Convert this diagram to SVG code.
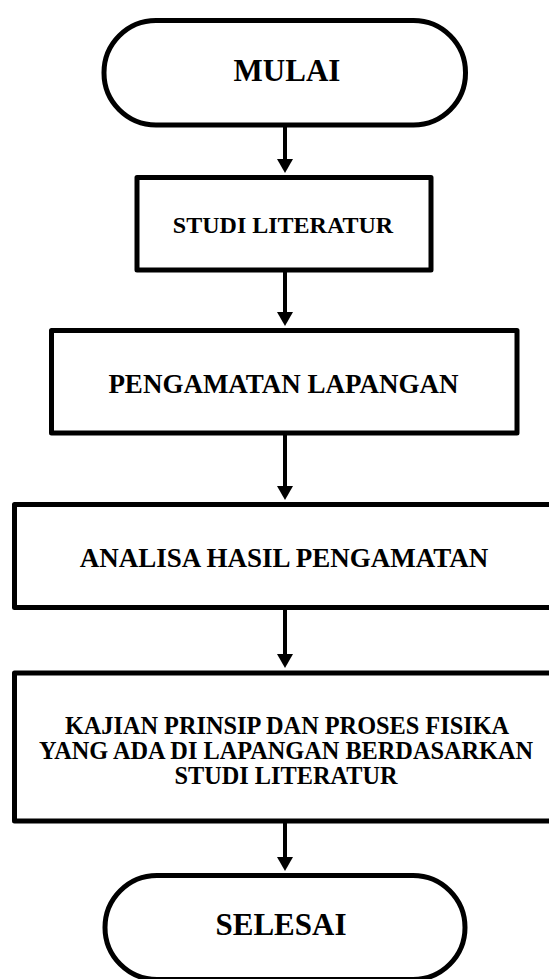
<svg xmlns="http://www.w3.org/2000/svg" width="549" height="979" viewBox="0 0 549 979">
<style>
.shape{fill:#fff;stroke:#000;stroke-width:5;stroke-linejoin:round}
.lbl{font-family:"Liberation Serif","Times New Roman",serif;font-weight:bold;fill:#000;text-anchor:middle}
.conn{stroke:#000;stroke-width:4;fill:none}
</style>
<defs>
<marker id="arr" markerUnits="userSpaceOnUse" markerWidth="16" markerHeight="16" refX="6" refY="8" orient="auto" viewBox="0 0 16 16">
<path d="M0,0 L14,8 L0,16 z" fill="#000"/>
</marker>
</defs>
<rect width="549" height="979" fill="#fff"/>
<g id="mulai">
<rect class="shape" x="104" y="20.5" width="361.5" height="104.5" rx="52" ry="52"/>
<text class="lbl" x="287" y="81" font-size="31">MULAI</text>
</g>
<g id="studi">
<rect class="shape" x="137" y="177.5" width="294" height="92.5"/>
<text class="lbl" x="283" y="233" font-size="24">STUDI LITERATUR</text>
</g>
<g id="pengamatan">
<rect class="shape" x="51.5" y="330.5" width="465.5" height="102.5"/>
<text class="lbl" x="283.5" y="393" font-size="27">PENGAMATAN LAPANGAN</text>
</g>
<g id="analisa">
<rect class="shape" x="14.5" y="504.5" width="560" height="103"/>
<text class="lbl" x="284" y="567" font-size="27">ANALISA HASIL PENGAMATAN</text>
</g>
<g id="kajian">
<rect class="shape" x="14.5" y="673" width="560" height="148"/>
<text class="lbl" font-size="24.3"><tspan x="287" y="734">KAJIAN PRINSIP DAN PROSES FISIKA</tspan><tspan x="286" y="759">YANG ADA DI LAPANGAN BERDASARKAN</tspan><tspan x="286" y="784">STUDI LITERATUR</tspan></text>
</g>
<g id="selesai">
<rect class="shape" x="105" y="875.5" width="360" height="104" rx="52" ry="52"/>
<text class="lbl" x="281" y="935" font-size="31">SELESAI</text>
</g>
<g id="connectors">
<line class="conn" x1="285" y1="125" x2="285" y2="165" marker-end="url(#arr)"/>
<line class="conn" x1="285" y1="270" x2="285" y2="318" marker-end="url(#arr)"/>
<line class="conn" x1="285" y1="433" x2="285" y2="492" marker-end="url(#arr)"/>
<line class="conn" x1="285" y1="607.5" x2="285" y2="660" marker-end="url(#arr)"/>
<line class="conn" x1="285" y1="821" x2="285" y2="863" marker-end="url(#arr)"/>
</g>
</svg>
